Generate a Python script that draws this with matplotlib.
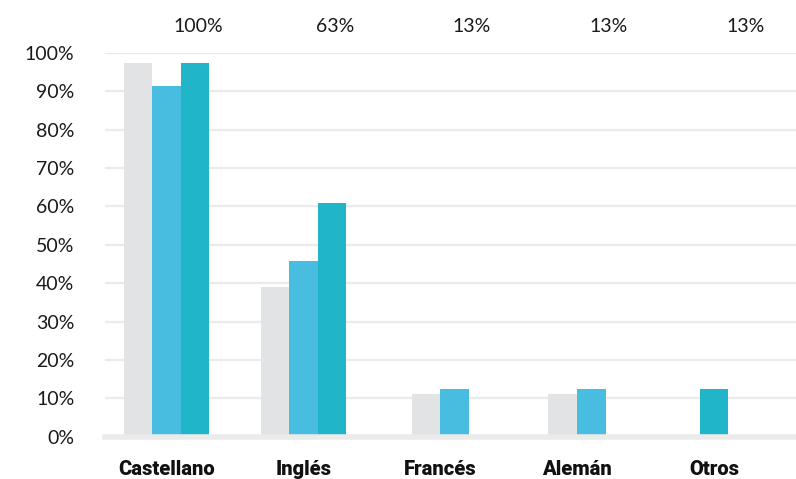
import matplotlib.pyplot as plt
import numpy as np

categories = ["Castellano", "Inglés", "Francés", "Alemán", "Otros"]
series_a = [97.4, 39.1, 11.1, 11.1, 0.0]
series_b = [91.4, 45.8, 12.4, 12.4, 0.0]
series_c = [97.4, 61.0, 0.0, 0.0, 12.4]
top_labels = ["100%", "63%", "13%", "13%", "13%"]

colors = ["#E2E3E5", "#48BDDF", "#21B5C9"]
grid_color = "#EBEBEB"
text_color = "#1a1a1a"
bar_w = 0.209

fig = plt.figure(figsize=(7.96, 4.79), dpi=100)
ax = fig.add_axes([105 / 796, 1 - 436.7 / 479, 691 / 796, 383.7 / 479])

values = np.array([series_a, series_b, series_c]).T
for i, row in enumerate(values):
    # only non-zero bars are drawn, and they are centred on the category
    shown = [(k, v) for k, v in enumerate(row) if v > 0]
    n = len(shown)
    for j, (k, v) in enumerate(shown):
        x = i + (j - (n - 1) / 2) * bar_w
        ax.bar(x, v, width=bar_w, color=colors[k], linewidth=0, zorder=3)
    ax.text(i + 0.23, 1.068, top_labels[i], transform=ax.get_xaxis_transform(),
            ha="center", va="center", fontsize=14, family="Lato",
            fontweight="normal", color=text_color)

ax.set_xlim(-0.45, 4.60)
ax.set_ylim(0, 100)
ax.set_yticks(np.arange(0, 101, 10))
ax.set_yticklabels([f"{v}%" for v in range(0, 101, 10)], family="Lato",
                   fontweight="normal", fontsize=14, color=text_color)
ax.tick_params(axis="y", length=0, pad=22)
ax.set_xticks(range(len(categories)))
ax.set_xticklabels(categories, fontsize=14.5, family="Roboto",
                   fontweight="black", color="#111111")
ax.tick_params(axis="x", length=0, pad=17)

ax.yaxis.grid(True, color=grid_color, linewidth=1.6, zorder=0)
for s in ["top", "right", "left"]:
    ax.spines[s].set_visible(False)
ax.spines["bottom"].set_color(grid_color)
ax.spines["bottom"].set_linewidth(4)
ax.spines["bottom"].set_zorder(4)

fig.savefig("out.png", dpi=100)
